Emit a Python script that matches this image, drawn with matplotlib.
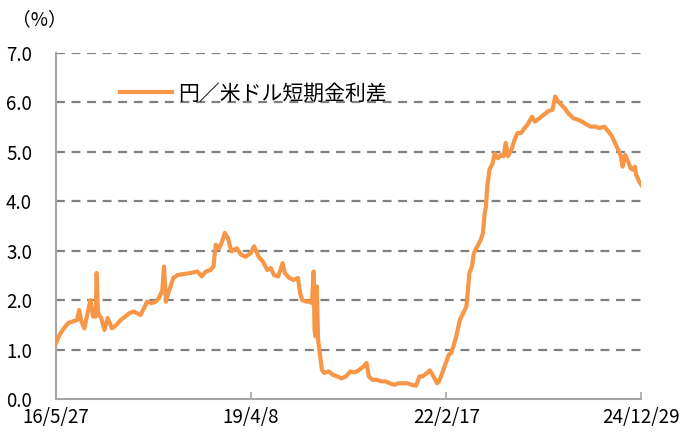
import matplotlib
matplotlib.use("Agg")
import matplotlib.pyplot as plt
import numpy as np
import pandas as pd

plt.rcParams['font.family'] = ['Noto Sans CJK JP', 'DejaVu Sans']

start_date = "2016-05-27"
day_offsets = [0, 19, 42, 66, 89, 113, 124, 136, 152, 171, 185, 199, 213, 218, 225, 242, 260, 277, 300, 324,
               347, 371, 394, 417, 453, 476, 488, 511, 535, 551, 570, 579, 589, 605, 629, 652, 687, 722, 758, 781,
               804, 828, 844, 856, 875, 891, 905, 922, 940, 969, 992, 1016, 1044, 1062, 1086, 1109, 1133, 1152, 1168, 1191,
               1215, 1227, 1250, 1274, 1297, 1309, 1320, 1344, 1363, 1372, 1381, 1386, 1391, 1398, 1405, 1414, 1426, 1438, 1461, 1485,
               1508, 1531, 1555, 1578, 1602, 1625, 1649, 1665, 1677, 1696, 1719, 1743, 1766, 1789, 1813, 1836, 1860, 1883, 1907, 1930,
               1949, 1965, 1989, 2005, 2024, 2043, 2054, 2071, 2090, 2106, 2118, 2130, 2146, 2165, 2183, 2200, 2207, 2216, 2230, 2240,
               2259, 2277, 2289, 2298, 2305, 2312, 2324, 2341, 2352, 2369, 2387, 2399, 2411, 2423, 2441, 2458, 2474, 2493, 2512, 2528,
               2552, 2568, 2592, 2615, 2638, 2662, 2676, 2692, 2709, 2728, 2746, 2774, 2798, 2821, 2845, 2868, 2892, 2915, 2939, 2962,
               2981, 2997, 3014, 3028, 3037, 3051, 3063, 3080, 3091, 3103, 3110, 3126, 3138]
spread = [1.13, 1.30, 1.43, 1.54, 1.57, 1.60, 1.80, 1.57, 1.43, 1.77, 2.00, 1.67, 1.67, 2.55, 1.74, 1.64, 1.40, 1.64, 1.43, 1.50,
          1.60, 1.67, 1.74, 1.77, 1.70, 1.87, 1.97, 1.94, 1.97, 2.04, 2.20, 2.68, 1.97, 2.18, 2.45, 2.51, 2.53, 2.55, 2.58, 2.48,
          2.58, 2.61, 2.68, 3.12, 3.05, 3.19, 3.36, 3.25, 2.99, 3.05, 2.92, 2.88, 2.95, 3.09, 2.88, 2.78, 2.61, 2.65, 2.51, 2.48,
          2.75, 2.55, 2.45, 2.41, 2.45, 2.14, 2.00, 1.97, 1.97, 1.94, 2.58, 1.40, 1.27, 2.28, 1.20, 0.93, 0.59, 0.53, 0.56, 0.49,
          0.46, 0.42, 0.46, 0.56, 0.54, 0.59, 0.66, 0.73, 0.46, 0.39, 0.39, 0.36, 0.36, 0.32, 0.29, 0.32, 0.32, 0.32, 0.29, 0.27,
          0.46, 0.46, 0.53, 0.58, 0.46, 0.32, 0.36, 0.53, 0.73, 0.90, 0.93, 1.06, 1.27, 1.60, 1.74, 1.87, 2.14, 2.55, 2.68, 2.95,
          3.09, 3.22, 3.36, 3.76, 3.89, 4.30, 4.64, 4.77, 4.97, 4.87, 4.94, 4.91, 5.18, 4.91, 5.04, 5.24, 5.38, 5.38, 5.48, 5.55,
          5.71, 5.61, 5.68, 5.75, 5.82, 5.85, 6.12, 6.02, 5.95, 5.88, 5.78, 5.68, 5.65, 5.61, 5.55, 5.51, 5.51, 5.48, 5.51, 5.41,
          5.31, 5.18, 5.04, 4.91, 4.70, 4.94, 4.84, 4.67, 4.64, 4.70, 4.54, 4.40, 4.33]
tick_dates = ["2016-05-27", "2019-04-08", "2022-02-17", "2024-12-29"]
tick_labels = ["16/5/27", "19/4/8", "22/2/17", "24/12/29"]
y_ticks = [0, 1, 2, 3, 4, 5, 6, 7]
series_name = "円／米ドル短期金利差"

dates = pd.Timestamp(start_date) + pd.to_timedelta(day_offsets, unit="D")

fig = plt.figure(figsize=(6.83, 4.41), dpi=100)
ax = fig.add_axes([0.082, 0.095, 0.857, 0.785])

ax.plot(dates, spread, color="#F79646", linewidth=3.0, solid_joinstyle="round", label=series_name, zorder=3)

tds = pd.to_datetime(tick_dates)
ax.set_xlim(tds[0], tds[-1])
ax.set_ylim(0, 7)
ax.set_yticks(y_ticks)
ax.set_yticklabels([f"{v:.1f}" for v in y_ticks], fontsize=13.5)
ax.set_xticks(tds)
ax.set_xticklabels(tick_labels, fontsize=13.5)

for v in y_ticks[1:]:
    ax.axhline(v, color="#808080", linewidth=1.6, linestyle=(0, (4, 3)), zorder=1)

for s in ["top", "right"]:
    ax.spines[s].set_visible(False)
for s in ["left", "bottom"]:
    ax.spines[s].set_color("#a6a6a6")
    ax.spines[s].set_linewidth(1.5)

ax.tick_params(axis="y", length=0, pad=36, colors="black")
ax.tick_params(axis="x", direction="in", length=5, color="#a6a6a6", width=1.2, pad=6)
for lab in ax.get_yticklabels():
    lab.set_horizontalalignment("left")

leg = ax.legend(loc="upper left", bbox_to_anchor=(0.109, 0.915), frameon=False, fontsize=15,
                handlelength=2.5, handletextpad=0.3, borderaxespad=0, borderpad=0)

fig.text(0.018, 0.955, "（%）", fontsize=13.5, ha="left", va="center")

fig.savefig("out.png", dpi=100)
